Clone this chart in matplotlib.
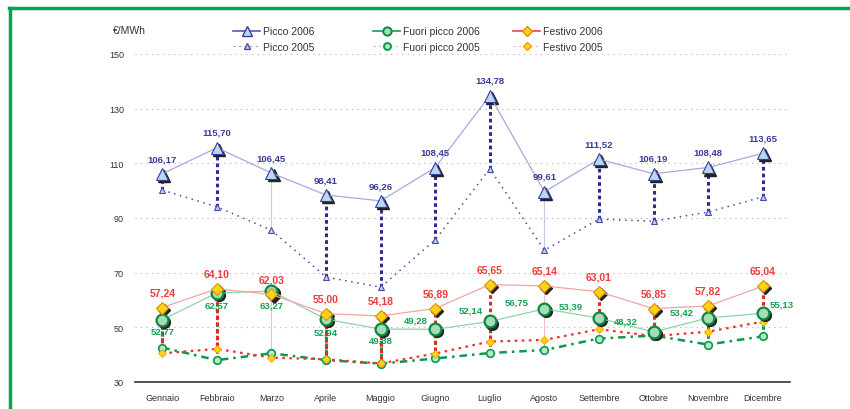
import numpy as np
import matplotlib
matplotlib.use('Agg')
import matplotlib.pyplot as plt
import matplotlib.transforms as mtransforms
from matplotlib.lines import Line2D

plt.rcParams['font.family'] = ['Liberation Sans', 'DejaVu Sans']

# data
mesi = ['Gennaio', 'Febbraio', 'Marzo', 'Aprile', 'Maggio', 'Giugno',
        'Luglio', 'Agosto', 'Settembre', 'Ottobre', 'Novembre', 'Dicembre']
picco_2006 = [106.17, 115.70, 106.45, 98.41, 96.26, 108.45,
              134.78, 99.61, 111.52, 106.19, 108.48, 113.65]
fuori_2006 = [52.77, 62.57, 63.27, 52.94, 49.38, 49.28,
              52.14, 56.75, 53.39, 48.32, 53.42, 55.13]
festivo_2006 = [57.24, 64.10, 62.03, 55.00, 54.18, 56.89,
                65.65, 65.14, 63.01, 56.85, 57.82, 65.04]
picco_2005 = [100.2, 94.1, 85.5, 68.4, 64.7, 82.0,
              108.0, 78.2, 89.6, 88.8, 92.2, 97.7]
fuori_2005 = [42.6, 38.0, 40.5, 38.0, 36.7, 38.6,
              40.6, 41.7, 45.9, 47.0, 43.7, 46.7]
festivo_2005 = [40.5, 42.1, 38.9, 38.3, 36.8, 40.4,
                44.8, 45.4, 49.3, 46.8, 48.4, 52.1]
yticks = [30, 50, 70, 90, 110, 130, 150]

# label offsets for green series (points)
fuori_off = [(0, -8), (0, -9), (0, -10), (0, -9), (0, -8), (-14, 7),
             (-14, 8), (-20, 5), (-20, 9), (-20, 8), (-19, 4), (14, 7)]

# colours
c_picco = '#3b3b9a'
c_picco_l = '#a8a8e0'
c_fuori = '#12a050'
c_fuori_l = '#8fd4a8'
c_fest = '#ee3b3b'
c_fest_l = '#f6a3a3'

fig = plt.figure(figsize=(8.5, 4.1), dpi=100)
ax = fig.add_axes([135 / 850, 1 - 383 / 410, 655 / 850, 328 / 410])
x = np.arange(len(mesi))

# drop lines
thin = [2, 7]
for i in x:
    if i in thin:
        ax.vlines(i, picco_2005[i], picco_2006[i], color='#c8c8e0', lw=0.8, zorder=1)
        ax.vlines(i, min(fuori_2005[i], festivo_2005[i]), max(fuori_2006[i], festivo_2006[i]),
                  color='#f0c0c0', lw=0.8, zorder=1)
    else:
        ax.vlines(i, picco_2005[i], picco_2006[i], color='#2a2a90', lw=2.2,
                  linestyles=(0, (1.2, 1.0)), zorder=2)
        ax.vlines(i, fuori_2005[i], fuori_2006[i], color='#0a9a4a', lw=2.2,
                  linestyles=(0, (1.2, 1.0)), zorder=2)
        ax.vlines(i, festivo_2005[i], festivo_2006[i], color='#ee2222', lw=2.2,
                  linestyles=(1.1, (1.2, 1.0)), zorder=2)

# 2005 series
ax.plot(x, picco_2005, color='#4a4aaa', lw=1.1, ls=(0, (1, 3)), marker='^', ms=5,
        mfc='#b8d8f0', mec='#4a4aaa', mew=0.8, zorder=3)
ax.plot(x, fuori_2005, color='#0a9a4a', lw=1.8, ls=(0, (3, 2, 1, 2)), marker='o', ms=5.5,
        mfc='#b8e8c8', mec='#0a9a4a', mew=1.2, zorder=3)
ax.plot(x, festivo_2005, color='#ee3333', lw=1.6, ls=(0, (1.2, 2)), marker='D', ms=4,
        mfc='#ffd21a', mec='#f0a000', mew=0.6, zorder=3)

# 2006 series with shadows
shadow = mtransforms.offset_copy(ax.transData, fig=fig, x=1.5, y=-1.5, units='points')
for vals, mk, ms in [(picco_2006, '^', 9), (fuori_2006, 'o', 8.5), (festivo_2006, 'D', 6.5)]:
    ax.plot(x, vals, ls='none', marker=mk, ms=ms, mfc='#222222', mec='#222222',
            transform=shadow, zorder=4)
ax.plot(x, picco_2006, color=c_picco_l, lw=0.9, marker='^', ms=9,
        mfc='#b8d8f0', mec='#3b3b9a', mew=0.8, zorder=5)
ax.plot(x, fuori_2006, color=c_fuori_l, lw=0.9, marker='o', ms=8.5,
        mfc='#a8dcb8', mec='#0a8a40', mew=1.6, zorder=5)
ax.plot(x, festivo_2006, color=c_fest_l, lw=0.9, marker='D', ms=6.5,
        mfc='#ffd21a', mec='#e09000', mew=0.8, zorder=5)

# value labels
def lab(v):
    return ('%.2f' % v).replace('.', ',')

for i in x:
    ax.annotate(lab(picco_2006[i]), (i, picco_2006[i]), xytext=(0, 11),
                textcoords='offset points', ha='center', va='center',
                fontsize=6.8, color=c_picco, fontweight='bold', zorder=6)
    ax.annotate(lab(festivo_2006[i]), (i, festivo_2006[i]), xytext=(0, 11),
                textcoords='offset points', ha='center', va='center',
                fontsize=7.5, color=c_fest, fontweight='bold', zorder=6)
    ax.annotate(lab(fuori_2006[i]), (i, fuori_2006[i]), xytext=fuori_off[i],
                textcoords='offset points', ha='center', va='center',
                fontsize=6.8, color=c_fuori, fontweight='bold', zorder=6)

ax.set_xlim(-0.5, 11.5)
ax.set_ylim(30, 150)
ax.set_yticks(yticks)
ax.set_xticks(x)
ax.set_xticklabels(mesi)
ax.tick_params(length=0, labelsize=6.5, colors='#333333', pad=8)
ax.tick_params(axis='y', pad=8)
for t in yticks[1:]:
    ax.axhline(t, color='#b0b0b0', lw=0.8, ls=(0, (1, 4)), zorder=0)
for s in ['top', 'right', 'left']:
    ax.spines[s].set_visible(False)
ax.spines['bottom'].set_color('#333333')
ax.spines['bottom'].set_linewidth(1.2)

fig.text(113 / 850, 1 - 31 / 410, '€/MWh', fontsize=7.5, color='#333333', va='center')

# legend, one block per series pair
handles = [
    Line2D([], [], color='#5a5ab0', lw=1.2, marker='^', ms=7, mfc='#b8d8f0', mec='#3b3b9a'),
    Line2D([], [], color='#9b9bd7', lw=0.8, ls=(0, (2, 3)), marker='^', ms=5, mfc='#b8d8f0', mec='#4a4aaa'),
    Line2D([], [], color='#12a050', lw=1.2, marker='o', ms=6, mfc='#a8dcb8', mec='#0a8a40', mew=1.4),
    Line2D([], [], color='#a0d8b0', lw=0.8, ls=(0, (2, 3)), marker='o', ms=5, mfc='#b8e8c8', mec='#0a9a4a', mew=1.4),
    Line2D([], [], color='#ee4444', lw=1.2, marker='D', ms=5.5, mfc='#ffd21a', mec='#e09000'),
    Line2D([], [], color='#f6b0b0', lw=0.8, ls=(0, (2, 3)), marker='D', ms=4, mfc='#ffd21a', mec='#f0a000'),
]
names = ['Picco 2006', 'Picco 2005', 'Fuori picco 2006', 'Fuori picco 2005',
         'Festivo 2006', 'Festivo 2005']
for k, px in enumerate([228, 368, 508]):
    fig.legend(handles[2 * k:2 * k + 2], names[2 * k:2 * k + 2], loc='upper left',
               bbox_to_anchor=(px / 850, 1 - 22 / 410), frameon=False, fontsize=7.5,
               handlelength=2.6, handletextpad=0.3, labelspacing=0.55, borderpad=0,
               labelcolor='#333333')

# green frame
fig.add_artist(Line2D([10 / 850, 10 / 850], [0, 1 - 9 / 410], color='#00a651', lw=2.5,
                      transform=fig.transFigure))
fig.add_artist(Line2D([9 / 850, 1], [1 - 9 / 410, 1 - 9 / 410], color='#00a651', lw=2.5,
                      transform=fig.transFigure))

fig.savefig('out.png', dpi=100)
